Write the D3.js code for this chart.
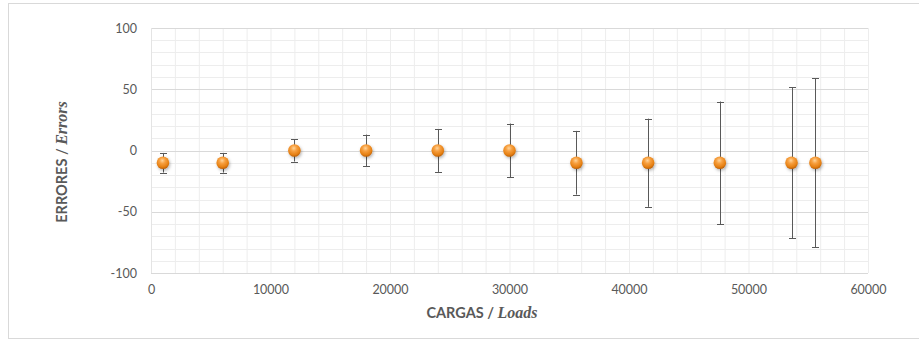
<!DOCTYPE html>
<html>
<head>
<meta charset="utf-8">
<script src="https://cdn.jsdelivr.net/npm/d3@7"></script>
<style>
  body { margin: 0; background: #fff; }
  text { font-family: Lato, 'Open Sans', sans-serif; }
</style>
</head>
<body>
<div id="chart"></div>
<script>
const loads = [1000, 6000, 12000, 18000, 24000, 30000, 35600, 41600, 47600, 53600, 55600]
const errors = [-10, -10, 0, 0, 0, 0, -10, -10, -10, -10, -10]
const errorBars = [8, 8, 9, 13, 17.5, 22, 26, 36, 50, 61.5, 69]
const xTicks = [0, 10000, 20000, 30000, 40000, 50000, 60000]
const yTicks = [-100, -50, 0, 50, 100]

const width = 919, height = 340
const margin = {top: 28, right: 51, bottom: 67, left: 151}

const svg = d3.select('#chart').append('svg')
  .attr('width', width)
  .attr('height', height)

const defs = svg.append('defs')
const grad = defs.append('radialGradient')
  .attr('id', 'ball')
  .attr('cx', '45%').attr('cy', '32%').attr('r', '68%')
grad.append('stop').attr('offset', '0%').attr('stop-color', '#ffd49a')
grad.append('stop').attr('offset', '35%').attr('stop-color', '#f7a040')
grad.append('stop').attr('offset', '78%').attr('stop-color', '#e57f12')
grad.append('stop').attr('offset', '100%').attr('stop-color', '#b85e08')

const shadow = defs.append('filter').attr('id', 'shadow')
  .attr('x', '-50%').attr('y', '-50%').attr('width', '200%').attr('height', '200%')
shadow.append('feDropShadow')
  .attr('dx', 1).attr('dy', 1.5).attr('stdDeviation', 1.5)
  .attr('flood-color', '#000').attr('flood-opacity', 0.3)

// outer border
svg.append('rect')
  .attr('x', 8.5).attr('y', 3.5)
  .attr('width', 920).attr('height', 335)
  .attr('fill', 'none').attr('stroke', '#d9d9d9')

const x = d3.scaleLinear().domain([0, 60000]).range([margin.left, width - margin.right])
const y = d3.scaleLinear().domain([-100, 100]).range([height - margin.bottom, margin.top])

const g = svg.append('g')

// minor gridlines
g.selectAll('line.vminor')
  .data(d3.range(2000, 60001, 2000))
  .join('line')
  .attr('class', 'vminor')
  .attr('x1', d => x(d) + 0.5).attr('x2', d => x(d) + 0.5)
  .attr('y1', y(100)).attr('y2', y(-100))
  .attr('stroke', '#ededed')

g.selectAll('line.hminor')
  .data(d3.range(-90, 100, 10).filter(d => d % 50 !== 0))
  .join('line')
  .attr('class', 'hminor')
  .attr('x1', x(0)).attr('x2', x(60000))
  .attr('y1', d => Math.round(y(d)) + 0.5).attr('y2', d => Math.round(y(d)) + 0.5)
  .attr('stroke', '#ededed')

// major horizontal gridlines
g.selectAll('line.hmajor')
  .data(yTicks)
  .join('line')
  .attr('class', 'hmajor')
  .attr('x1', x(0)).attr('x2', x(60000))
  .attr('y1', d => Math.round(y(d)) + 0.5).attr('y2', d => Math.round(y(d)) + 0.5)
  .attr('stroke', '#d9d9d9')
  .attr('stroke-width', 1.2)

g.append('line')
  .attr('x1', x(0) + 0.5).attr('x2', x(0) + 0.5)
  .attr('y1', y(100)).attr('y2', y(-100))
  .attr('stroke', '#e4e4e4')

// axes
const xAxis = svg.append('g')
  .attr('transform', `translate(0,${y(-100)})`)
  .call(d3.axisBottom(x).tickValues(xTicks).tickSize(0).tickPadding(12).tickFormat(d => String(d)))
xAxis.select('.domain').remove()
xAxis.selectAll('text').attr('fill', '#595959').style('font-size', '12.5px')

const yAxis = svg.append('g')
  .attr('transform', `translate(${x(0)},0)`)
  .call(d3.axisLeft(y).tickValues(yTicks).tickSize(0).tickPadding(14).tickFormat(d => String(d)))
yAxis.select('.domain').remove()
yAxis.selectAll('text').attr('fill', '#595959').style('font-size', '12.5px')

// error bars
const pts = loads.map((l, i) => ({x: l, y: errors[i], e: errorBars[i]}))
const bars = g.selectAll('g.err').data(pts).join('g').attr('class', 'err')
bars.append('line')
  .attr('x1', d => Math.round(x(d.x)) + 0.5).attr('x2', d => Math.round(x(d.x)) + 0.5)
  .attr('y1', d => y(d.y + d.e)).attr('y2', d => y(d.y - d.e))
  .attr('stroke', '#595959').attr('stroke-width', 1)
bars.selectAll('line.cap')
  .data(d => [d.y + d.e, d.y - d.e].map(v => ({x: d.x, v})))
  .join('line')
  .attr('class', 'cap')
  .attr('x1', d => Math.round(x(d.x)) - 3).attr('x2', d => Math.round(x(d.x)) + 4)
  .attr('y1', d => Math.round(y(d.v)) + 0.5).attr('y2', d => Math.round(y(d.v)) + 0.5)
  .attr('stroke', '#595959').attr('stroke-width', 1)

// markers
g.selectAll('circle.pt')
  .data(pts)
  .join('circle')
  .attr('class', 'pt')
  .attr('cx', d => x(d.x)).attr('cy', d => y(d.y))
  .attr('r', 6.3)
  .attr('fill', 'url(#ball)')
  .attr('filter', 'url(#shadow)')

// axis titles
const serif = "'Liberation Serif', 'DejaVu Serif', serif"
const xt = svg.append('text')
  .attr('x', 482).attr('y', 318)
  .attr('text-anchor', 'middle')
  .attr('fill', '#595959')
  .style('font-size', '14.5px')
xt.append('tspan').attr('font-weight', 'bold').text('CARGAS / ')
xt.append('tspan')
  .style('font-family', serif)
  .style('font-style', 'italic')
  .style('font-weight', 'bold')
  .style('font-size', '16px')
  .text('Loads')

const yt = svg.append('text')
  .attr('transform', 'translate(67,162) rotate(-90)')
  .attr('text-anchor', 'middle')
  .attr('fill', '#595959')
  .style('font-size', '14.5px')
yt.append('tspan').attr('font-weight', 'bold').text('ERRORES / ')
yt.append('tspan')
  .style('font-family', serif)
  .style('font-style', 'italic')
  .style('font-weight', 'bold')
  .style('font-size', '16px')
  .text('Errors')
</script>
</body>
</html>
